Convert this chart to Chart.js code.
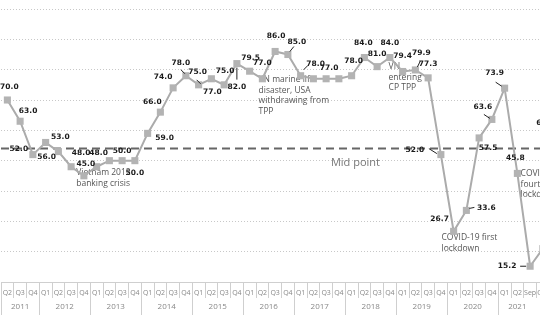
<!DOCTYPE html>
<html lang="en">
<head>
<meta charset="utf-8">
<script src="https://cdn.jsdelivr.net/npm/chart.js"></script>
<style>
  html, body { margin: 0; padding: 0; background: #fff; }
  .wrap { width: 540px; height: 322px; overflow: hidden; position: relative; }
  #chartLine { position: absolute; left: 0; top: 0; }
</style>
</head>
<body>
<div class="wrap">
  <canvas id="chartLine" width="562" height="322"></canvas>
</div>

<script>
  // x axis: quarters (2021 switches to months), grouped by year
  var quarters = ['Q2', 'Q3', 'Q4',
    'Q1', 'Q2', 'Q3', 'Q4', 'Q1', 'Q2', 'Q3', 'Q4', 'Q1', 'Q2', 'Q3', 'Q4',
    'Q1', 'Q2', 'Q3', 'Q4', 'Q1', 'Q2', 'Q3', 'Q4', 'Q1', 'Q2', 'Q3', 'Q4',
    'Q1', 'Q2', 'Q3', 'Q4', 'Q1', 'Q2', 'Q3', 'Q4', 'Q1', 'Q2', 'Q3', 'Q4',
    'Q1', 'Q2', 'Sep', 'Oct', 'Nov'];
  var years = ['2011', '2012', '2013', '2014', '2015', '2016', '2017', '2018', '2019', '2020', '2021'];

  var indexValues = [70.0, 63.0, 52.0,
    56.0, 53.0, 48.0, 45.0,
    48.0, 50.0, 50.0, 50.0,
    59.0, 66.0, 74.0, 78.0,
    75.0, 77.0, 75.0, 82.0,
    79.5, 77.0, 86.0, 85.0,
    78.0, 77.0, 77.0, 77.0,
    78.0, 84.0, 81.0, 84.0,
    79.4, 79.9, 77.3, 52.0,
    26.7, 33.6, 57.5, 63.6,
    73.9, 45.8, 15.2, 21.0, 65.0];

  var midPoint = 54;
  var yTicks = [10, 100, 10]; // min, max, step

  // label placement (px from the point), null = no label
  var labelOffsets = [[2, -13], [8, -10], [-14, -6],
    [1, 15], [2, -15], [10, -14], [2, -12],
    [2, -14], null, [0, -10], [0, 12],
    [17, 5], [-8, -10], [-10, -11], [-5, -13],
    [-1, -13], [1, 13], [1, -14], [0, 23],
    [1, -13], [0, -16], [1, -15], [9, -12],
    [15, -12], null, [3, -11], null,
    [2, -15], [-1, -14], [0, -13], [0, -14],
    [0, -15], [6, -17], [0, -14], [-26, -5],
    [-14, -12], [20, -2], [9, 10], [-9, -12],
    [-10, -15], [-2, -15], [-23, 0], null, [-10, 8]];

  // small leader lines [index, x1, y1, x2, y2] relative to the point
  var leaders = [[14, -5, -6, -1, -2], [15, -2, -5, 2, -1], [18, 0, 4, 0, 16],
    [22, 2, -3, 6, -8], [23, 3, -6, 7, -10], [32, 2, -3, 5, -9],
    [34, -12, -6, -4, -1], [36, 3, -2, 8, -3], [38, -8, -5, -2, -1],
    [39, -9, -6, -3, -2], [41, -10, 0, -4, 0]];

  // notes: [category position, value] of first line's left edge
  var notes = [
    { at: [5.4, 46.0], lines: ['Vietnam 2012', 'banking crisis'] },
    { at: [19.7, 76.7], lines: ['VN marine life', 'disaster, USA', 'withdrawing from', 'TPP'] },
    { at: [29.9, 81.0], lines: ['VN', 'entering', 'CP TPP'] },
    { at: [34.05, 24.5], lines: ['COVID-19 first', 'lockdown'] },
    { at: [40.25, 45.7], lines: ['COVID-19', 'fourth', 'lockdown'] }
  ];

  var extras = {
    id: 'extras',
    beforeDatasetsDraw: function (chart) {
      var c = chart.ctx, xs = chart.scales.x, ys = chart.scales.y, a = chart.chartArea;
      c.save();
      // mid point line
      var ym = ys.getPixelForValue(midPoint);
      c.strokeStyle = '#666';
      c.lineWidth = 2;
      c.setLineDash([8, 5]);
      c.beginPath();
      c.moveTo(a.left, ym);
      c.lineTo(a.right, ym);
      c.stroke();
      c.setLineDash([]);
      c.fillStyle = '#777';
      c.font = '11px "Open Sans"';
      c.textAlign = 'center';
      c.textBaseline = 'middle';
      c.fillText('Mid point', xs.getPixelForValue(27.3), ym + 14);

      c.fillStyle = '#555';
      c.font = '8.5px "Open Sans"';
      c.textAlign = 'left';
      notes.forEach(function (n) {
        var x = xs.getPixelForValue(n.at[0]);
        var y = ys.getPixelForValue(n.at[1]);
        n.lines.forEach(function (t, k) {
          c.fillText(t, x, y + k * 10.5);
        });
      });
      c.restore();
    },
    afterDatasetsDraw: function (chart) {
      var c = chart.ctx, meta = chart.getDatasetMeta(0);
      c.save();
      c.strokeStyle = '#222';
      c.lineWidth = 1;
      leaders.forEach(function (l) {
        var p = meta.data[l[0]];
        c.beginPath();
        c.moveTo(p.x + l[1], p.y + l[2]);
        c.lineTo(p.x + l[3], p.y + l[4]);
        c.stroke();
      });
      c.fillStyle = '#1a1a1a';
      c.font = 'bold 7.5px "DejaVu Sans"';
      c.textAlign = 'center';
      c.textBaseline = 'middle';
      indexValues.forEach(function (v, i) {
        var o = labelOffsets[i];
        if (!o) return;
        var p = meta.data[i];
        c.fillText(v.toFixed(1), p.x + o[0], p.y + o[1]);
      });
      c.restore();
    },
    afterDraw: function (chart) {
      var c = chart.ctx, xs = chart.scales.x, a = chart.chartArea;
      var half = (xs.getPixelForValue(1) - xs.getPixelForValue(0)) / 2;
      var starts = [0];
      for (var i = 1; i < quarters.length; i++) {
        if (quarters[i] === 'Q1') starts.push(i);
      }
      c.save();
      c.strokeStyle = '#cfcfcf';
      c.lineWidth = 1;
      c.fillStyle = '#888';
      c.font = '8px "Open Sans"';
      c.textAlign = 'center';
      c.textBaseline = 'middle';
      starts.forEach(function (s, g) {
        var e = (g + 1 < starts.length ? starts[g + 1] : quarters.length) - 1;
        var x0 = xs.getPixelForValue(s) - half;
        var x1 = xs.getPixelForValue(e) + half;
        c.beginPath();
        c.moveTo(Math.round(x0) + 0.5, a.bottom);
        c.lineTo(Math.round(x0) + 0.5, a.bottom + 33);
        c.stroke();
        c.fillText(years[g], (x0 + Math.min(x1, 540 + half)) / 2 - (g === starts.length - 1 ? 5 : 0), a.bottom + 25);
      });
      c.restore();
    }
  };

  var ctx = document.getElementById('chartLine').getContext('2d');
  var config = {
    type: 'line',
    data: {
      labels: quarters,
      datasets: [{
        data: indexValues,
        borderColor: '#ababab',
        borderWidth: 2,
        backgroundColor: '#b3b3b3',
        pointStyle: 'rect',
        pointRadius: 5,
        pointBorderWidth: 0,
        tension: 0
      }]
    },
    options: {
      responsive: false,
      animation: false,
      devicePixelRatio: 1,
      layout: { autoPadding: false, padding: { left: 1, right: 0, top: 9, bottom: 0 } },
      plugins: { legend: { display: false }, tooltip: { enabled: false } },
      scales: {
        x: {
          offset: true,
          grid: { offset: true, drawOnChartArea: false, drawTicks: true, tickLength: 16, color: '#cfcfcf' },
          border: { display: true, color: '#cfcfcf' },
          ticks: { autoSkip: false, maxRotation: 0, color: '#888', padding: -9, font: { size: 7, family: 'Open Sans' } },
          afterFit: function (s) { s.height = 40; s.paddingLeft = 0; s.paddingRight = 0; }
        },
        y: {
          min: yTicks[0],
          max: yTicks[1],
          ticks: { display: false, stepSize: yTicks[2] },
          grid: { drawTicks: false, color: '#c8c8c8' },
          border: { display: false, dash: [1, 2] },
          afterFit: function (s) { s.width = 0; }
        }
      }
    },
    plugins: [extras]
  };
  var chart = new Chart(ctx, config);
</script>
</body>
</html>
